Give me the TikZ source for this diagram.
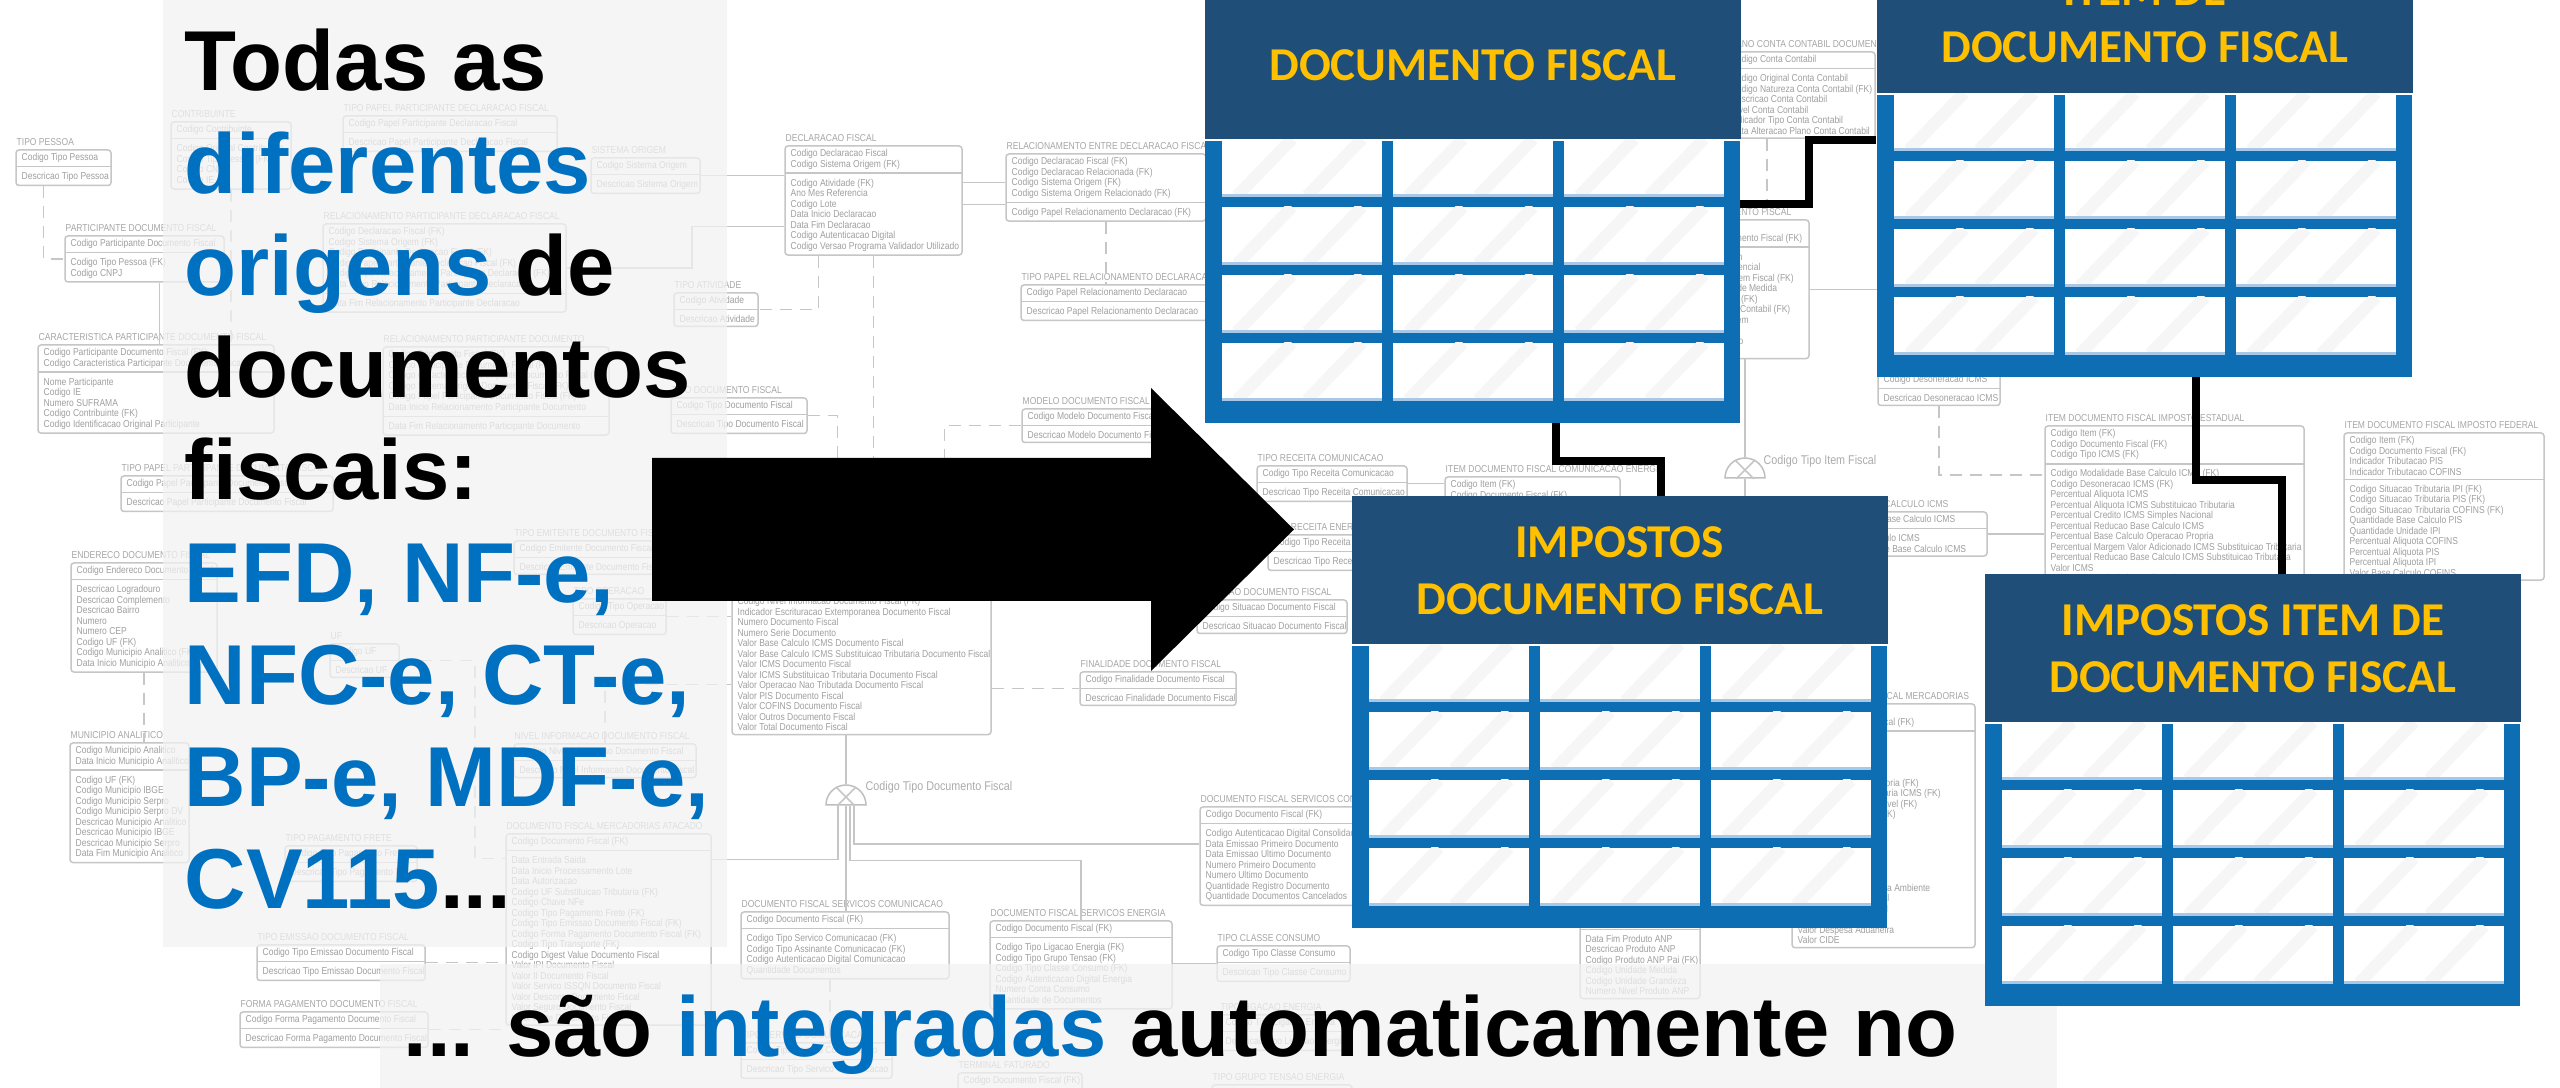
\documentclass[tikz,border=0pt]{standalone}
\usepackage{fontspec}
\usepackage{tikz}
\usetikzlibrary{fit}
\usetikzlibrary{shapes.geometric}
\setmainfont{Liberation Sans}
\newfontfamily\hdrfont{Carlito}
\newfontfamily\erfont[FakeStretch=0.85]{Liberation Sans}
\definecolor{mblue}{HTML}{0070C0}
\definecolor{mnavy}{HTML}{1F4E79}
\definecolor{mgold}{HTML}{FFC000}
\definecolor{mtable}{HTML}{0E6EB4}
\definecolor{mrim}{HTML}{A7C8E6}
\definecolor{mpanel}{HTML}{F2F2F2}
\newcommand{\blu}[1]{\textcolor{mblue}{#1}}
\newcommand{\etc}{...}
\tikzset{
  erline/.style = {draw=gray!45, line width=0.15mm},
  erdash/.style = {erline, dash pattern=on 1.2mm off 0.8mm},
  ertext/.style = {font=\erfont\fontsize{2.85}{2.99}\selectfont, text=gray!75, inner sep=0.3mm, align=left, anchor=north west},
  ertitle/.style = {font=\erfont\fontsize{2.85}{2.99}\selectfont, text=gray!70, inner sep=0, anchor=south west},
  erlabel/.style = {font=\erfont\fontsize{3.6}{4}\selectfont, text=gray!65, inner sep=0, anchor=west},
  erbox/.style = {erline, rounded corners=0.3mm, inner sep=0},
  subtype/.style = {semicircle, draw=gray!50, line width=0.15mm, inner sep=0, minimum size=2mm},
  msg/.style = {font=\bfseries\fontsize{24.2}{29}\selectfont, anchor=base west, inner sep=0},
  tblbody/.style = {fill=mtable, minimum width=53.5mm, minimum height=28.2mm, inner sep=0, anchor=north west},
  tblhead/.style = {fill=mnavy, text=mgold, font=\hdrfont\bfseries\fontsize{13.4}{16.2}\selectfont, align=center, minimum width=53.6mm, minimum height=14.8mm, inner sep=0, anchor=south west},
  glare/.style = {line width=1.2mm, gray!7},
  cellrim/.style = {mrim, line width=0.3mm},
  link/.style = {line width=0.8mm, black}
}
\newcommand{\ertable}[7]{%
  \coordinate (#1nw) at (#2,#3);
  \coordinate (#1ne) at ({#2+#4},#3);
  \node[ertitle] (#1t) at ([yshift=0.4mm]#1nw) {#5};
  \node[ertext] (#1k) at ([xshift=0.2mm]#1nw) {#6};
  \node[ertext] (#1a) at ([yshift=-0.2mm]#1k.south west) {#7};
  \draw[erline] (#1k.south -| #1nw) -- (#1k.south -| #1ne);
  \coordinate (#1se) at (#1a.south -| #1ne);
  \node[erbox, fit=(#1nw) (#1se)] (#1) {};
}
\newcommand{\fiscaltable}[4]{%
  \node[tblbody] (#1) at (#2,#3) {};
  \foreach \ci in {0,1,2} {
    \foreach \ri in {0,...,3} {
      \pgfmathsetmacro{\cx}{#2+18+171*\ci}
      \pgfmathsetmacro{\cy}{#3+56+68*\ri}
      \fill[white] (\cx,\cy) rectangle ++(160,-57);
      \begin{scope}
        \clip (\cx,\cy) rectangle ++(160,-57);
        \draw[glare] (\cx+15,\cy) -- ++(55,-57) (\cx+85,\cy) -- ++(55,-57);
      \end{scope}
      \draw[cellrim] (\cx,\cy) -- ++(160,0);
    }
  }
  \node[tblhead] (#1h) at (#2,#3) {#4};
}

\begin{document}
\begin{tikzpicture}[x=0.1mm, y=-0.1mm]
  \useasboundingbox (0,0) rectangle (2560,1088);
  \clip (0,0) rectangle (2560,1088);
  \fill[white] (0,0) rectangle (2560,1088);

  \ertable{pessoa}{16}{150}{95}{TIPO PESSOA}{Codigo Tipo Pessoa}{Descricao Tipo Pessoa}
  \ertable{contrib}{171}{122}{120}{CONTRIBUINTE}{Codigo Contribuinte}{Codigo Original Contribuinte\\Codigo Tipo Pessoa (FK)\\Codigo CNPJ\\Codigo IE}
  \ertable{papdecl}{343}{116}{214}{TIPO PAPEL PARTICIPANTE DECLARACAO FISCAL}{Codigo Papel Participante Declaracao Fiscal}{Descricao Papel Participante Declaracao Fiscal}
  \ertable{sisorig}{591}{158}{109}{SISTEMA ORIGEM}{Codigo Sistema Origem}{Descricao Sistema Origem}
  \ertable{partdoc}{65}{236}{159}{PARTICIPANTE DOCUMENTO FISCAL}{Codigo Participante Documento Fiscal}{Codigo Tipo Pessoa (FK)\\Codigo CNPJ}
  \ertable{relpdecl}{323}{224}{243}{RELACIONAMENTO PARTICIPANTE DECLARACAO FISCAL}{Codigo Declaracao Fiscal (FK)\\Codigo Sistema Origem (FK)\\Codigo Participante Declaracao Fiscal (FK)\\Codigo Papel Participante Declaracao Fiscal (FK)\\Codigo Tipo Relacionamento Participante Declaracao (FK)\\Data Inicio Relacionamento Participante Declaracao}{Data Fim Relacionamento Participante Declaracao}
  \ertable{ativ}{674}{293}{84}{TIPO ATIVIDADE}{Codigo Atividade}{Descricao Atividade}
  \ertable{caract}{38}{345}{236}{CARACTERISTICA PARTICIPANTE DOCUMENTO FISCAL}{Codigo Participante Documento Fiscal (FK)\\Codigo Caracteristica Participante Documento Fiscal}{Nome Participante\\Codigo IE\\Numero SUFRAMA\\Codigo Contribuinte (FK)\\Codigo Identificacao Original Participante}
  \ertable{relpdoc}{383}{347}{226}{RELACIONAMENTO PARTICIPANTE DOCUMENTO}{Codigo Documento Fiscal (FK)\\Codigo Participante Documento Fiscal (FK)\\Codigo Caracteristica Participante Documento Fiscal (FK)\\Codigo Sistema Origem Documento Fiscal (FK)\\Codigo Papel Participante Documento Fiscal (FK)\\Data Inicio Relacionamento Participante Documento}{Data Fim Relacionamento Participante Documento}
  \ertable{tipodoc}{671}{398}{136}{TIPO DOCUMENTO FISCAL}{Codigo Tipo Documento Fiscal}{Descricao Tipo Documento Fiscal}
  \ertable{pappdoc}{121}{476}{212}{TIPO PAPEL PARTICIPANTE DOCUMENTO FISCAL}{Codigo Papel Participante Documento Fiscal}{Descricao Papel Participante Documento Fiscal}
  \ertable{emit}{514}{541}{139}{TIPO EMITENTE DOCUMENTO FISCAL}{Codigo Emitente Documento Fiscal}{Descricao Emitente Documento Fiscal}
  \ertable{ender}{71}{563}{146}{ENDERECO DOCUMENTO FISCAL}{Codigo Endereco Documento Fiscal}{Descricao Logradouro\\Descricao Complemento\\Descricao Bairro\\Numero\\Numero CEP\\Codigo UF (FK)\\Codigo Municipio Analitico (FK)\\Data Inicio Municipio Analitico (FK)}
  \ertable{oper}{573}{599}{93}{TIPO OPERACAO}{Codigo Tipo Operacao}{Descricao Operacao}
  \ertable{uf}{330}{644}{69}{UF}{Codigo UF}{Descricao UF}
  \ertable{munic}{70}{743}{119}{MUNICIPIO ANALITICO}{Codigo Municipio Analitico\\Data Inicio Municipio Analitico}{Codigo UF (FK)\\Codigo Municipio IBGE\\Codigo Municipio Serpro\\Codigo Municipio Serpro DV\\Descricao Municipio Analitico\\Descricao Municipio IBGE\\Descricao Municipio Serpro\\Data Fim Municipio Analitico}
  \ertable{nivel}{514}{744}{182}{NIVEL INFORMACAO DOCUMENTO FISCAL}{Codigo Nivel Informacao Documento Fiscal}{Descricao Nivel Informacao Documento Fiscal}
  \ertable{frete}{285}{846}{132}{TIPO PAGAMENTO FRETE}{Codigo Tipo Pagamento Frete}{Descricao Tipo Pagamento Frete}
  \ertable{atacado}{506}{834}{205}{DOCUMENTO FISCAL MERCADORIAS ATACADO}{Codigo Documento Fiscal (FK)}{Data Entrada Saida\\Data Inicio Processamento Lote\\Data Autorizacao\\Codigo UF Substituicao Tributaria (FK)\\Codigo Chave NFe\\Codigo Tipo Pagamento Frete (FK)\\Codigo Tipo Emissao Documento Fiscal (FK)\\Codigo Forma Pagamento Documento Fiscal (FK)\\Codigo Tipo Transporte (FK)\\Codigo Digest Value Documento Fiscal\\Valor IPI Documento Fiscal\\Valor II Documento Fiscal\\Valor Servico ISSQN Documento Fiscal\\Valor Desconto Documento Fiscal\\Valor Seguro Documento Fiscal\\Valor Frete Documento Fiscal}
  \ertable{emis}{257}{945}{168}{TIPO EMISSAO DOCUMENTO FISCAL}{Codigo Tipo Emissao Documento Fiscal}{Descricao Tipo Emissao Documento Fiscal}
  \ertable{formapag}{240}{1012}{188}{FORMA PAGAMENTO DOCUMENTO FISCAL}{Codigo Forma Pagamento Documento Fiscal}{Descricao Forma Pagamento Documento Fiscal}
  \ertable{docfis}{732}{512}{259}{DOCUMENTO FISCAL}{Codigo Documento Fiscal}{Codigo Tipo Documento Fiscal (FK)\\Codigo Modelo Documento Fiscal (FK)\\Codigo Emitente Documento Fiscal (FK)\\Codigo Tipo Operacao (FK)\\Codigo Situacao Documento Fiscal (FK)\\Codigo Finalidade Documento Fiscal (FK)\\Codigo Nivel Informacao Documento Fiscal (FK)\\Indicador Escrituracao Extemporanea Documento Fiscal\\Numero Documento Fiscal\\Numero Serie Documento\\Valor Base Calculo ICMS Documento Fiscal\\Valor Base Calculo ICMS Substituicao Tributaria Documento Fiscal\\Valor ICMS Documento Fiscal\\Valor ICMS Substituicao Tributaria Documento Fiscal\\Valor Operacao Nao Tributada Documento Fiscal\\Valor PIS Documento Fiscal\\Valor COFINS Documento Fiscal\\Valor Outros Documento Fiscal\\Valor Total Documento Fiscal}
  \ertable{declfis}{785}{146}{177}{DECLARACAO FISCAL}{Codigo Declaracao Fiscal\\Codigo Sistema Origem (FK)}{Codigo Atividade (FK)\\Ano Mes Referencia\\Codigo Lote\\Data Inicio Declaracao\\Data Fim Declaracao\\Codigo Autenticacao Digital\\Codigo Versao Programa Validador Utilizado}
  \ertable{reldecl}{1006}{154}{200}{RELACIONAMENTO ENTRE DECLARACAO FISCAL}{Codigo Declaracao Fiscal (FK)\\Codigo Declaracao Relacionada (FK)\\Codigo Sistema Origem (FK)\\Codigo Sistema Origem Relacionado (FK)}{Codigo Papel Relacionamento Declaracao (FK)}
  \ertable{paprdecl}{1021}{285}{190}{TIPO PAPEL RELACIONAMENTO DECLARACAO}{Codigo Papel Relacionamento Declaracao}{Descricao Papel Relacionamento Declaracao}
  \ertable{modelo}{1022}{409}{135}{MODELO DOCUMENTO FISCAL}{Codigo Modelo Documento Fiscal}{Descricao Modelo Documento Fiscal}
  \ertable{recom}{1257}{466}{150}{TIPO RECEITA COMUNICACAO}{Codigo Tipo Receita Comunicacao}{Descricao Tipo Receita Comunicacao}
  \ertable{recen}{1268}{535}{110}{TIPO RECEITA ENERGIA}{Codigo Tipo Receita Energia}{Descricao Tipo Receita Energia}
  \ertable{situ}{1197}{600}{150}{SITUACAO DOCUMENTO FISCAL}{Codigo Situacao Documento Fiscal}{Descricao Situacao Documento Fiscal}
  \ertable{final}{1080}{672}{156}{FINALIDADE DOCUMENTO FISCAL}{Codigo Finalidade Documento Fiscal}{Descricao Finalidade Documento Fiscal}
  \ertable{itemcom}{1445}{477}{175}{ITEM DOCUMENTO FISCAL COMUNICACAO ENERGIA}{Codigo Item (FK)\\Codigo Documento Fiscal (FK)}{}
  \ertable{consol}{1200}{807}{160}{DOCUMENTO FISCAL SERVICOS CONSOLIDADOS}{Codigo Documento Fiscal (FK)}{Codigo Autenticacao Digital Consolidado\\Data Emissao Primeiro Documento\\Data Emissao Ultimo Documento\\Numero Primeiro Documento\\Numero Ultimo Documento\\Quantidade Registro Documento\\Quantidade Documentos Cancelados}
  \ertable{servcom}{741}{912}{208}{DOCUMENTO FISCAL SERVICOS COMUNICACAO}{Codigo Documento Fiscal (FK)}{Codigo Tipo Servico Comunicacao (FK)\\Codigo Tipo Assinante Comunicacao (FK)\\Codigo Autenticacao Digital Comunicacao\\Quantidade Documentos}
  \ertable{serven}{990}{921}{182}{DOCUMENTO FISCAL SERVICOS ENERGIA}{Codigo Documento Fiscal (FK)}{Codigo Tipo Ligacao Energia (FK)\\Codigo Tipo Grupo Tensao (FK)\\Codigo Tipo Classe Consumo (FK)\\Codigo Autenticacao Digital Energia\\Numero Conta Consumo\\Quantidade de Documentos}
  \ertable{classe}{1217}{946}{133}{TIPO CLASSE CONSUMO}{Codigo Tipo Classe Consumo}{Descricao Tipo Classe Consumo}
  \ertable{tiposerv}{741}{1043}{151}{TIPO SERVICO COMUNICACAO}{Codigo Tipo Servico Comunicacao}{Descricao Tipo Servico Comunicacao}
  \ertable{terminal}{958}{1073}{124}{TERMINAL FATURADO}{Codigo Documento Fiscal (FK)}{}
  \ertable{ligacao}{1220}{1015}{127}{TIPO LIGACAO ENERGIA}{Codigo Tipo Ligacao Energia}{Descricao Tipo Ligacao Energia}
  \ertable{tensao}{1212}{1085}{140}{TIPO GRUPO TENSAO ENERGIA}{Codigo Tipo Grupo Tensao}{}
  \ertable{contabil}{1725}{52}{150}{PLANO CONTA CONTABIL DOCUMENTO FISCAL}{Codigo Conta Contabil}{Codigo Original Conta Contabil\\Codigo Natureza Conta Contabil (FK)\\Descricao Conta Contabil\\Nivel Conta Contabil\\Indicador Tipo Conta Contabil\\Data Alteracao Plano Conta Contabil}
  \ertable{itemdoc}{1680}{220}{129}{ITEM DOCUMENTO FISCAL}{Codigo Item\\Codigo Documento Fiscal (FK)}{Descricao Item\\Numero Sequencial\\Codigo Tipo Item Fiscal (FK)\\Codigo Unidade Medida\\Codigo CFOP (FK)\\Codigo Conta Contabil (FK)\\Quantidade Item\\Valor Item\\Valor Desconto\\Valor Total}
  \ertable{deson}{1878}{372}{122}{DESONERACAO ICMS}{Codigo Desoneracao ICMS}{Descricao Desoneracao ICMS}
  \ertable{modal}{1800}{512}{187}{MODALIDADE BASE CALCULO ICMS}{Codigo Modalidade Base Calculo ICMS}{Descricao Base Calculo ICMS\\Descricao Modalidade Base Calculo ICMS}
  \ertable{estadual}{2045}{426}{259}{ITEM DOCUMENTO FISCAL IMPOSTO ESTADUAL}{Codigo Item (FK)\\Codigo Documento Fiscal (FK)\\Codigo Tipo ICMS (FK)}{Codigo Modalidade Base Calculo ICMS (FK)\\Codigo Desoneracao ICMS (FK)\\Percentual Aliquota ICMS\\Percentual Aliquota ICMS Substituicao Tributaria\\Percentual Credito ICMS Simples Nacional\\Percentual Reducao Base Calculo ICMS\\Percentual Base Calculo Operacao Propria\\Percentual Margem Valor Adicionado ICMS Substituicao Tributaria\\Percentual Reducao Base Calculo ICMS Substituicao Tributaria\\Valor ICMS\\Valor ICMS Substituicao Tributaria}
  \ertable{federal}{2344}{433}{200}{ITEM DOCUMENTO FISCAL IMPOSTO FEDERAL}{Codigo Item (FK)\\Codigo Documento Fiscal (FK)\\Indicador Tributacao PIS\\Indicador Tributacao COFINS}{Codigo Situacao Tributaria IPI (FK)\\Codigo Situacao Tributaria PIS (FK)\\Codigo Situacao Tributaria COFINS (FK)\\Quantidade Base Calculo PIS\\Quantidade Unidade IPI\\Percentual Aliquota COFINS\\Percentual Aliquota PIS\\Percentual Aliquota IPI\\Valor Base Calculo COFINS}
  \ertable{mercad}{1792}{704}{183}{ITEM DOCUMENTO FISCAL MERCADORIAS}{Codigo Item (FK)\\Codigo Documento Fiscal (FK)}{Codigo Mercadoria\\Descricao Mercadoria\\Codigo NCM (FK)\\Codigo CEST (FK)\\Codigo Origem Mercadoria (FK)\\Codigo Situacao Tributaria ICMS (FK)\\Codigo Unidade Tributavel (FK)\\Codigo Produto ANP (FK)\\Quantidade Comercial\\Quantidade Tributavel\\Valor Aliquota PIS\\Valor Aliquota COFINS\\Percentual Biodiesel\\Percentual Gas Natural\\Quantidade Temperatura Ambiente\\Valor Unitario Comercial\\Valor Unitario Tributavel\\Valor Frete\\Valor Despesa Aduaneira\\Valor CIDE}
  \ertable{anp}{1580}{904}{120}{PRODUTO ANP}{Codigo Produto ANP\\Data Inicio Produto ANP}{Data Fim Produto ANP\\Descricao Produto ANP\\Codigo Produto ANP Pai (FK)\\Codigo Unidade Medida\\Codigo Unidade Grandeza\\Numero Nivel Produto ANP}

  \draw[erdash] ([xshift=-2mm]pessoa.south) |- (partdoc.west);
  \draw[erdash] (contrib.south) -- (contrib.south |- caract.north);
  \draw[erline] ([xshift=1.5mm]partdoc.south) -- ([xshift=1.5mm]partdoc.south |- caract.north);
  \draw[erline] (sisorig.east) -- (sisorig.east -| declfis.west);
  \draw[erline] (relpdecl.east) -- ++(12.5mm,0) |- ([yshift=-2.6mm]declfis.west);
  \draw[erline] ([yshift=1.8mm]declfis.east) -- ([yshift=1.8mm]declfis.east -| reldecl.west);
  \draw[erline] ([yshift=-0.4mm]declfis.east) -- ([yshift=-0.4mm]declfis.east -| reldecl.west);
  \draw[erdash] (reldecl.south) -- (reldecl.south |- paprdecl.north);
  \draw[erdash] ([xshift=-5.5mm]declfis.south) |- (ativ.east);
  \draw[erdash] (declfis.south) -- (declfis.south |- docfis.north);
  \draw[erdash] (tipodoc.east) -| ([xshift=-2.4mm]docfis.north);
  \draw[erdash] (modelo.west) -| ([xshift=8.3mm]docfis.north);
  \draw[erdash] (oper.east) -- (oper.east -| docfis.west);
  \draw[erdash] (nivel.north) |- ([yshift=-6.1mm]docfis.west);
  \draw[erdash] (uf.east) -- ++(7.5mm,0) |- ([yshift=7.1mm]atacado.west);
  \draw[erdash] (ender.south) -- (ender.south |- munic.north);
  \draw[erdash] (emis.east) -- (emis.east -| atacado.west);
  \draw[erdash] (formapag.east) -- (formapag.east -| atacado.west);
  \draw[erdash] (docfis.east |- final.west) -- (final.west);
  \draw[erline] (recom.east) -- (recom.east -| itemcom.west);
  \draw[erdash] ([xshift=-1.5mm]servcom.south) -- ([xshift=-1.5mm]servcom.south |- tiposerv.north);
  \draw[erline] (serven.east |- classe.west) -- (classe.west);
  \draw[erdash] (deson.south) |- ([yshift=3.1mm]estadual.west);
  \draw[erline] (modal.east) -- (modal.east -| estadual.west);
  \draw[erdash] ([xshift=-3.3mm]contabil.south) -- ([xshift=-3.3mm]contabil.south |- itemdoc.north);
  \draw[erline] (itemdoc.east) -- ++(7mm,0);

  \node[subtype] (subdoc) at (846,797) {};
  \node[erlabel] (subdoclbl) at (865,787) {Codigo Tipo Documento Fiscal};
  \draw[erline] (subdoc.south west) -- (subdoc.north east) (subdoc.south east) -- (subdoc.north west);
  \draw[erline] (docfis.south -| subdoc) -- (subdoc.north);
  \draw[erline] (subdoc.south) -- (subdoc.south |- servcom.north);
  \draw[erline] ([xshift=0.8mm]subdoc.south) |- ([yshift=1.2mm]consol.west);
  \draw[erline] ([xshift=-0.8mm]subdoc.south) |- ([yshift=7mm]atacado.east);
  \draw[erline] ([xshift=0.4mm]subdoc.south) -- ++(0,-5.5mm) -| (serven.north);
  \node[subtype] (subitem) at (1745,470) {};
  \node[erlabel] (subitemlbl) at (1763,461) {Codigo Tipo Item Fiscal};
  \draw[erline] (subitem.south west) -- (subitem.north east) (subitem.south east) -- (subitem.north west);
  \draw[erline] (itemdoc.south -| subitem) -- (subitem.north);
  \draw[erline] (subitem.south) -- ++(0,-3mm);

  \fill[mpanel, opacity=0.75] (163,0) rectangle (727,947);
  \fill[mpanel, opacity=0.75] (380,964) rectangle (2057,1088);

  \fiscaltable{docf}{1204}{140}{DOCUMENTO FISCAL}
  \fiscaltable{itemf}{1876}{94}{ITEM DE\\DOCUMENTO FISCAL}
  \fiscaltable{impdoc}{1351}{645}{IMPOSTOS\\DOCUMENTO FISCAL}
  \fiscaltable{impitem}{1984}{723}{IMPOSTOS ITEM DE\\DOCUMENTO FISCAL}

  \draw[link] ([yshift=-6.4mm]docf.north east) -- ++(6.9mm,0) |- ([yshift=-4.6mm]itemf.north west);
  \draw[link] ([xshift=8.35mm]docf.south) -- ++(0,-3.8mm) -| ([xshift=4.1mm]impdoch.north);
  \draw[link] ([xshift=5.15mm]itemf.south) -- ++(0,-10.3mm) -| ([xshift=2.9mm]impitemh.north);

  \fill (652,458) -- (1151,458) -- (1151,388) -- (1294,529.5) -- (1151,671) -- (1151,601) -- (652,601) -- cycle;

  \foreach \txt [count=\i] in {Todas as, {\blu{diferentes}}, {\blu{origens} de}, documentos, fiscais:, {\blu{EFD, NF-e,}}, {\blu{NFC-e, CT-e,}}, {\blu{BP-e, MDF-e,}}, {\blu{CV115}\etc}}
    \node[msg] (line\i) at (184, {91+102.25*(\i-1)}) {\txt};
  \node[msg] (tail) at (403,1057) {\etc{} são \blu{integradas} automaticamente no};
\end{tikzpicture}
\end{document}
